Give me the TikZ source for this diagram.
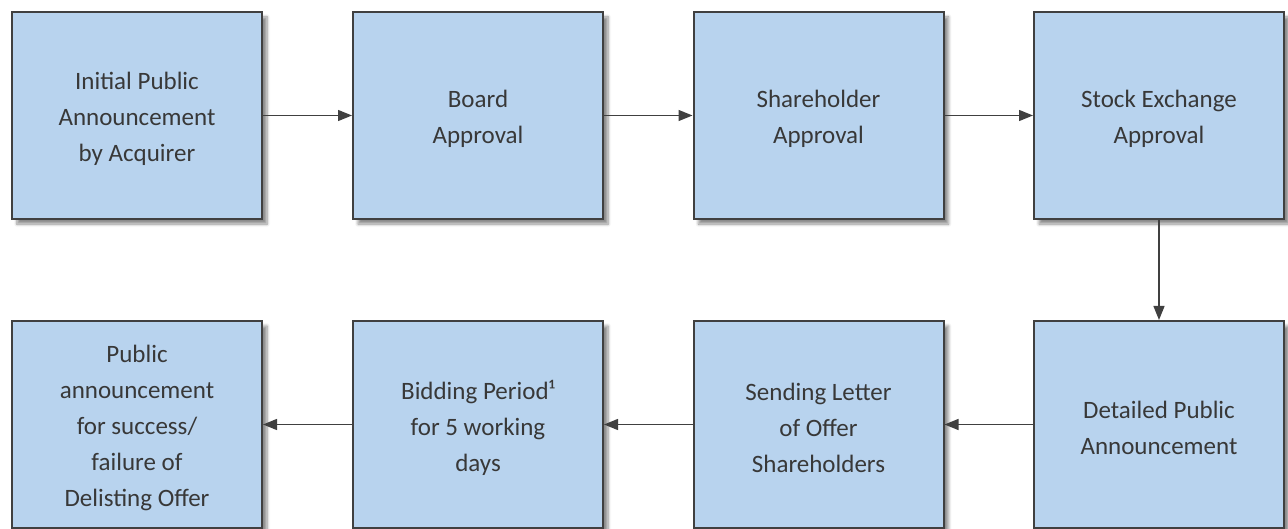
\documentclass[tikz,border=0pt]{standalone}
\usepackage{fontspec}
\setmainfont{Carlito}
\usetikzlibrary{arrows.meta,shadows.blur}
\definecolor{boxfill}{HTML}{B8D3EE}
\definecolor{boxline}{HTML}{404040}
\definecolor{txt}{HTML}{383838}
\begin{document}
\begin{tikzpicture}[x=1pt,y=-1pt,
  stepbox/.style={draw=boxline,line width=2pt,fill=boxfill,minimum width=250pt,minimum height=207pt,
    inner sep=0pt,
    blur shadow={shadow xshift=5pt,shadow yshift=-5pt,shadow blur steps=6,shadow blur radius=3pt,shadow opacity=45}},
  boxtext/.style={align=center,text=txt,font=\fontsize{25}{36}\selectfont,yshift=-3.5pt,inner sep=0pt},
  conn/.style={draw=boxline,line width=1.3pt,-{Triangle[length=14pt,width=11pt]}}]
\useasboundingbox (0,0) rectangle (1288,529);
\node[stepbox,label={[boxtext]center:{Initial Public\\Announcement\\by Acquirer}}] (a) at (137,115.5) {};
\node[stepbox,label={[boxtext]center:{Board\\Approval}}] (b) at (478,115.5) {};
\node[stepbox,label={[boxtext]center:{Shareholder\\Approval}}] (c) at (818.5,115.5) {};
\node[stepbox,label={[boxtext]center:{Stock Exchange\\Approval}}] (d) at (1159,115.5) {};
\node[stepbox,label={[boxtext]center:{Detailed Public\\Announcement}}] (e) at (1159,424.5) {};
\node[stepbox,label={[boxtext]center:{Sending Letter\\of Offer\\Shareholders}}] (f) at (818.5,424.5) {};
\node[stepbox,label={[boxtext]center:{Bidding Period¹\\for 5 working\\days}}] (g) at (478,424.5) {};
\node[stepbox,label={[boxtext]center:{Public\\announcement\\for success/\\failure of\\Delisting Offer}}] (h) at (137,424.5) {};
\draw[conn] (a) -- (b);
\draw[conn] (b) -- (c);
\draw[conn] (c) -- (d);
\draw[conn] (d) -- (e);
\draw[conn] (e) -- (f);
\draw[conn] (f) -- (g);
\draw[conn] (g) -- (h);
\end{tikzpicture}
\end{document}
